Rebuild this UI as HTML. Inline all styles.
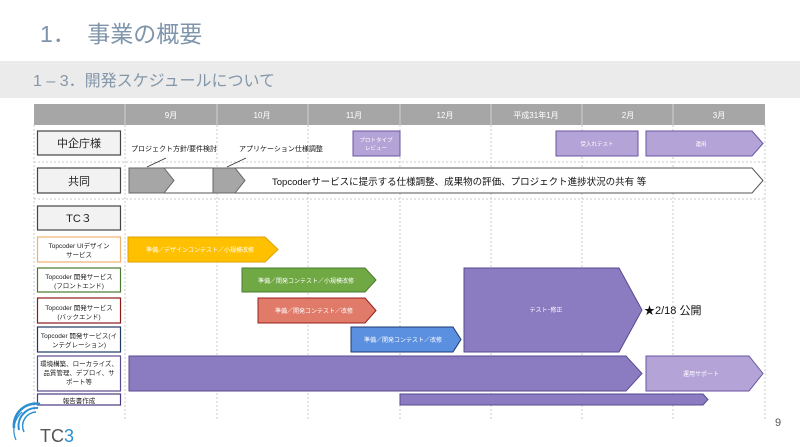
<!DOCTYPE html>
<html><head><meta charset="utf-8"><style>
body{margin:0;background:#fff;}
svg{display:block;font-family:"Liberation Sans","Noto Sans CJK JP",sans-serif;}
</style></head><body>
<svg width="800" height="447" viewBox="0 0 800 447">
<rect width="800" height="447" fill="#fff"/>
<text x="40" y="42" font-size="23" fill="#7f95ab">1．&#8194;事業の概要</text>
<rect x="0" y="61" width="800" height="37" fill="#ebebeb"/>
<text x="33" y="86" font-size="16" fill="#8496a9">1 – 3．開発スケジュールについて</text>
<!-- header -->
<rect x="34" y="104" width="731" height="21" fill="#a6a6a6"/>
<g stroke="#d0d0d0" stroke-width="1">
<line x1="125" y1="104" x2="125" y2="125"/><line x1="217" y1="104" x2="217" y2="125"/><line x1="308" y1="104" x2="308" y2="125"/><line x1="400" y1="104" x2="400" y2="125"/><line x1="491" y1="104" x2="491" y2="125"/><line x1="582" y1="104" x2="582" y2="125"/><line x1="673" y1="104" x2="673" y2="125"/>
</g>
<g fill="#fff" font-size="8" text-anchor="middle">
<text x="171" y="118">9月</text><text x="262" y="118">10月</text><text x="354" y="118">11月</text><text x="445" y="118">12月</text><text x="536" y="118">平成31年1月</text><text x="628" y="118">2月</text><text x="719" y="118">3月</text>
</g>
<!-- grid -->
<g stroke="#bbb" stroke-width="0.8" stroke-dasharray="2,2">
<line x1="34" y1="125" x2="34" y2="410"/><line x1="125" y1="125" x2="125" y2="420"/><line x1="217" y1="125" x2="217" y2="420"/><line x1="308" y1="125" x2="308" y2="420"/><line x1="400" y1="125" x2="400" y2="420"/><line x1="491" y1="125" x2="491" y2="420"/><line x1="582" y1="125" x2="582" y2="420"/><line x1="673" y1="125" x2="673" y2="420"/><line x1="765" y1="125" x2="765" y2="420"/>
<line x1="34" y1="162" x2="765" y2="162"/><line x1="34" y1="199" x2="765" y2="199"/>
</g>
<!-- row labels -->
<g stroke-width="1.2" fill="#fff">
<rect x="37.5" y="131" width="83" height="24" fill="#f2f2f2" stroke="#444"/>
<rect x="37.5" y="168" width="83" height="25" fill="#f2f2f2" stroke="#444"/>
<rect x="37.5" y="206" width="83" height="24" fill="#f2f2f2" stroke="#444"/>
<rect x="37.5" y="237" width="83" height="25" stroke="#f0b070"/>
<rect x="37.5" y="268" width="83" height="24" stroke="#4a7a30"/>
<rect x="37.5" y="298" width="83" height="25" stroke="#8b1a1a"/>
<rect x="37.5" y="327" width="83" height="25" stroke="#1f3a60"/>
<rect x="37.5" y="356" width="83" height="35" stroke="#5a4a90"/>
<rect x="37.5" y="394" width="83" height="11" stroke="#4a3a80"/>
</g>
<g font-size="11" text-anchor="middle" fill="#222">
<text x="79" y="147">中企庁様</text><text x="79" y="185">共同</text><text x="79" y="222">TC３</text>
</g>
<g font-size="6.5" text-anchor="middle" fill="#222">
<text x="79" y="248">Topcoder UIデザイン</text><text x="79" y="257">サービス</text>
<text x="79" y="279">Topcoder 開発サービス</text><text x="79" y="288">(フロントエンド)</text>
<text x="79" y="310">Topcoder 開発サービス</text><text x="79" y="319">(バックエンド)</text>
<text x="79" y="338">Topcoder 開発サービス(イ</text><text x="79" y="347">ンテグレーション)</text>
<text x="79" y="366">環境構築、ローカライズ、</text><text x="79" y="375">品質管理、デプロイ、サ</text><text x="79" y="384">ポート等</text>
<text x="79" y="403">報告書作成</text>
</g>
<!-- 中企庁 row -->
<rect x="353" y="131" width="47" height="25" fill="#b3a3d6" stroke="#6a55a0"/>
<text x="376" y="142" font-size="5.5" fill="#fff" text-anchor="middle">プロトタイプ</text>
<text x="376" y="150" font-size="5.5" fill="#fff" text-anchor="middle">レビュー</text>
<rect x="556" y="131" width="82" height="25" fill="#b3a3d6" stroke="#6a55a0"/>
<text x="597" y="146" font-size="5.5" fill="#fff" text-anchor="middle">受入れテスト</text>
<polygon points="646,131 752,131 763,143.5 752,156 646,156" fill="#b3a3d6" stroke="#6a55a0"/>
<text x="701" y="146" font-size="5.5" fill="#fff" text-anchor="middle">運用</text>
<text x="131" y="151" font-size="7" fill="#111">プロジェクト方針/要件検討</text>
<text x="239" y="151" font-size="7" fill="#111">アプリケーション仕様調整</text>
<line x1="147" y1="167" x2="166" y2="158" stroke="#333" stroke-width="0.8"/>
<line x1="227" y1="167" x2="246" y2="158" stroke="#333" stroke-width="0.8"/>
<!-- 共同 -->
<polygon points="129,168 752,168 763,180.5 752,193 129,193" fill="#fff" stroke="#555" stroke-width="1"/>
<polygon points="129,168 164,168 174,180.5 164,193 129,193" fill="#a6a6a6" stroke="#666"/>
<polygon points="213,168 235,168 245,180.5 235,193 213,193" fill="#a6a6a6" stroke="#666"/>
<text x="272" y="185" font-size="9.5" fill="#111">Topcoderサービスに提示する仕様調整、成果物の評価、プロジェクト進捗状況の共有 等</text>
<!-- bars -->
<polygon points="128,237 265,237 278,249.5 265,262 128,262" fill="#ffc000" stroke="#e0a000"/>
<text x="200" y="252" font-size="6" fill="#fff" text-anchor="middle">準備／デザインコンテスト／小規模改修</text>
<polygon points="242,268 365,268 376,280 365,292 242,292" fill="#70a843" stroke="#4a7a30"/>
<text x="306" y="283" font-size="6" fill="#fff" text-anchor="middle">準備／開発コンテスト／小規模改修</text>
<polygon points="258,298 365,298 376,310.5 365,323 258,323" fill="#e07b6a" stroke="#9a1c1c"/>
<text x="314" y="313" font-size="6" fill="#fff" text-anchor="middle">準備／開発コンテスト／改修</text>
<polygon points="351,327 453,327 461,339.5 453,352 351,352" fill="#5b8fe0" stroke="#1f3a70"/>
<text x="403" y="342" font-size="6" fill="#fff" text-anchor="middle">準備／開発コンテスト／改修</text>
<polygon points="464,268 619,268 642,310 619,352 464,352" fill="#8b7bc1" stroke="#5a4a90"/>
<text x="546" y="312" font-size="6" fill="#fff" text-anchor="middle">テスト･修正</text>
<text x="644" y="314" font-size="11" fill="#111">★2/18 公開</text>
<polygon points="129,356 626,356 642,373.5 626,391 129,391" fill="#8b7bc1" stroke="#5a4a90"/>
<polygon points="646,356 749,356 763,373.5 749,391 646,391" fill="#b3a3d6" stroke="#6a55a0"/>
<text x="701" y="376" font-size="6" fill="#fff" text-anchor="middle">運用サポート</text>
<polygon points="400,394 703,394 708,399.5 703,405 400,405" fill="#8b7bc1" stroke="#5a4a90"/>
<text x="775" y="426" font-size="11" fill="#555">9</text>
<!-- logo -->
<g fill="none" stroke="#2a8fd0">
<path d="M40,404 A22,22 0 0 0 14,428" stroke-width="2.5"/>
<path d="M38,408 A18,18 0 0 0 19,430" stroke-width="2"/>
<path d="M36,412 A14,14 0 0 0 24,432" stroke-width="1.5"/>
<path d="M22,412 A24,24 0 0 0 16,440" stroke-width="1.2"/>
</g>
<text x="40" y="442" font-size="18" fill="#555">TC<tspan fill="#2a8fd0">3</tspan></text>
</svg>
</body></html>
